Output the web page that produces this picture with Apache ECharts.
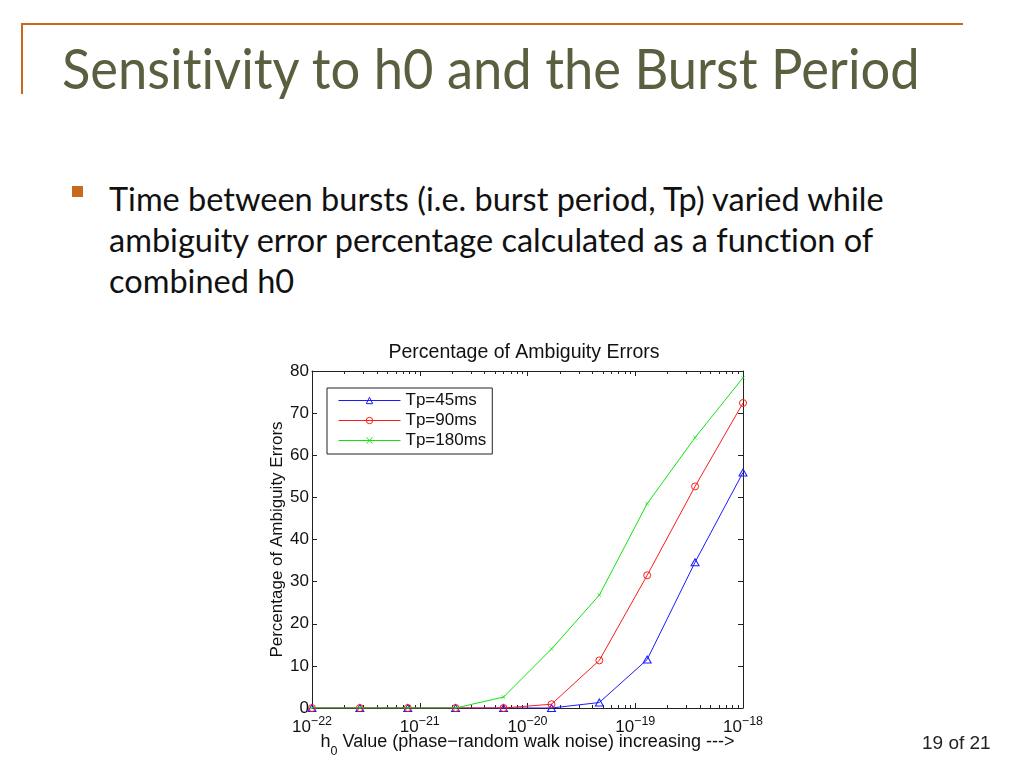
<!DOCTYPE html>
<html>
<head>
<meta charset="utf-8">
<script src="https://cdn.jsdelivr.net/npm/echarts@6/dist/echarts.min.js"></script>
<style>
  html, body { margin: 0; padding: 0; background: #fff; }
  #slide { position: relative; width: 1024px; height: 768px; overflow: hidden; background: #fff; }
  #chart { position: absolute; left: 0; top: 0; width: 1024px; height: 768px; }
  .hline { position: absolute; left: 21px; top: 23px; width: 942px; height: 2px; background: #c8691c; }
  .vline { position: absolute; left: 21px; top: 23px; width: 2px; height: 71px; background: #c8691c; }
  .title { position: absolute; left: 62px; top: 34px; font-family: Lato, "Open Sans", sans-serif; font-size: 52.5px; color: #5a603f; white-space: nowrap; transform-origin: 0 0; transform: scale(1, 1.06); line-height: 64px; font-variant-ligatures: none; }
  .bullet { position: absolute; left: 72px; top: 186px; width: 11px; height: 11px; background: #c8691c; }
  .body { position: absolute; left: 109px; top: 178px; font-family: Lato, "Open Sans", sans-serif; font-size: 32.5px; color: #111; line-height: 41px; white-space: nowrap; font-variant-ligatures: none; }
  .page { position: absolute; left: 922px; top: 732px; font-family: "Liberation Sans", Arial, sans-serif; font-size: 19px; color: #222; white-space: nowrap; }
  #err { position: absolute; left: 0; top: 0; font: 12px monospace; color: red; }
</style>
</head>
<body>
<div id="slide">
  <div class="hline"></div>
  <div class="vline"></div>
  <div class="title">Sensitivity to h0 and the Burst Period</div>
  <div class="bullet"></div>
  <div class="body">Time between bursts (i.e. burst period, Tp) varied while<br>ambiguity error percentage calculated as a function of<br>combined h0</div>
  <div id="chart"></div>
  <div class="page">19 of 21</div>
  <div id="err"></div>
</div>
<script>
// ---- data ----
var chartTitle = 'Percentage of Ambiguity Errors';
var seriesNames = ['Tp=45ms', 'Tp=90ms', 'Tp=180ms'];
var h0Values = [1e-22, 2.78e-22, 7.74e-22, 2.15e-21, 5.99e-21, 1.67e-20, 4.64e-20, 1.29e-19, 3.59e-19, 1e-18];
var tp45 = [0, 0, 0, 0, 0, 0, 1.3, 11.5, 34.6, 55.9];
var tp90 = [0, 0, 0, 0, 0, 0.9, 11.3, 31.5, 52.6, 72.4];
var tp180 = [0, 0, 0, 0, 2.6, 14.0, 26.8, 48.5, 64.2, 78.4];
var yTicks = [0, 10, 20, 30, 40, 50, 60, 70, 80];
var xDecades = [-22, -21, -20, -19, -18];   // x tick labels: 10^exponent

try {
var colors = ['#1a1aff', '#ff1a1a', '#12e012'];
var font = '"Liberation Sans", Arial, Helvetica, sans-serif';

// x axis is drawn in decades (log10 of h0)
function pairs(xs, ys) { return xs.map(function (x, i) { return [Math.log10(x), ys[i]]; }); }

var minorTicks = [];
for (var d = 0; d < xDecades.length - 1; d++) {
  for (var m = 2; m <= 9; m++) minorTicks.push(xDecades[d] + Math.log10(m));
}
var xMin = xDecades[0];
var xMax = xDecades[xDecades.length - 1];

var chart = echarts.init(document.getElementById('chart'), null, { renderer: 'canvas' });

function xAxisBase(pos) {
  return {
    type: 'value', min: xMin, max: xMax, interval: 1, gridIndex: 0, position: pos,
    splitLine: { show: false }
  };
}

var axisColor = '#222';

var option = {
  animation: false,
  title: {
    text: chartTitle, left: 519, top: 338, textAlign: 'center',
    textStyle: { fontFamily: font, fontSize: 19.5, fontWeight: 'normal', color: '#111' }
  },
  legend: {
    orient: 'vertical', left: 327, top: 388,
    padding: [4, 6, 5, 11], itemGap: 3, itemWidth: 62, itemHeight: 8,
    backgroundColor: '#fff', borderColor: '#222', borderWidth: 1, borderRadius: 0,
    textStyle: { fontFamily: font, fontSize: 17, color: '#111', lineHeight: 16 },
    lineStyle: { width: 1 },
    itemStyle: { borderWidth: 1 },
    data: seriesNames
  },
  grid: { left: 312, right: 281, top: 371, bottom: 60, containLabel: false },
  xAxis: [
    Object.assign(xAxisBase('bottom'), {
      name: '{t|h}{s|0}{t| Value (phase\u2212random walk noise) increasing --->}',
      nameLocation: 'middle', nameGap: 25, nameMoveOverlap: false,
      nameTextStyle: {
        rich: {
          t: { fontFamily: font, fontSize: 18, color: '#111', lineHeight: 22, verticalAlign: 'top' },
          s: { fontFamily: font, fontSize: 12.5, color: '#111', lineHeight: 12, verticalAlign: 'bottom', padding: [0, 0, -3, 0] }
        }
      },
      axisLine: { show: true, onZero: false, lineStyle: { color: axisColor, width: 1 } },
      axisTick: { show: true, inside: true, length: 5, lineStyle: { color: axisColor } },
      axisLabel: {
        margin: 7,
        formatter: function (v) {
          var e = Math.round(v);
          return '{b|10}{s|' + (e < 0 ? '\u2212' + (-e) : e) + '}';
        },
        rich: {
          b: { fontFamily: font, fontSize: 17, color: '#111', lineHeight: 21, verticalAlign: 'bottom' },
          s: { fontFamily: font, fontSize: 12.5, color: '#111', lineHeight: 14, verticalAlign: 'top' }
        }
      }
    }),
    Object.assign(xAxisBase('bottom'), {
      axisLine: { show: false, onZero: false },
      axisTick: { show: true, inside: true, length: 3, customValues: minorTicks, lineStyle: { color: axisColor } },
      axisLabel: { show: false }
    }),
    Object.assign(xAxisBase('top'), {
      axisLine: { show: true, onZero: false, lineStyle: { color: axisColor, width: 1 } },
      axisTick: { show: true, inside: true, length: 5, lineStyle: { color: axisColor } },
      axisLabel: { show: false }
    }),
    Object.assign(xAxisBase('top'), {
      axisLine: { show: false, onZero: false },
      axisTick: { show: true, inside: true, length: 3, customValues: minorTicks, lineStyle: { color: axisColor } },
      axisLabel: { show: false }
    })
  ],
  yAxis: [
    {
      type: 'value', min: yTicks[0], max: yTicks[yTicks.length - 1], interval: 10, position: 'left',
      name: 'Percentage of Ambiguity Errors', nameLocation: 'middle', nameGap: 25, nameRotate: 90,
      nameTextStyle: { fontFamily: font, fontSize: 17, color: '#111' },
      splitLine: { show: false },
      axisLine: { show: true, onZero: false, lineStyle: { color: axisColor, width: 1 } },
      axisTick: { show: true, inside: true, length: 5, lineStyle: { color: axisColor } },
      axisLabel: { margin: 3, fontFamily: font, fontSize: 17, color: '#111' }
    },
    {
      type: 'value', min: yTicks[0], max: yTicks[yTicks.length - 1], interval: 10, position: 'right',
      splitLine: { show: false },
      axisLine: { show: true, onZero: false, lineStyle: { color: axisColor, width: 1 } },
      axisTick: { show: true, inside: true, length: 5, lineStyle: { color: axisColor } },
      axisLabel: { show: false }
    }
  ],
  series: [
    {
      name: seriesNames[0], type: 'line', xAxisIndex: 0, yAxisIndex: 0,
      data: pairs(h0Values, tp45),
      symbol: 'triangle', symbolSize: [8, 7], showAllSymbol: true,
      lineStyle: { color: colors[0], width: 1 },
      itemStyle: { color: 'rgba(0,0,0,0)', borderColor: colors[0], borderWidth: 1 },
      emphasis: { disabled: true }, z: 2
    },
    {
      name: seriesNames[1], type: 'line', xAxisIndex: 0, yAxisIndex: 0,
      data: pairs(h0Values, tp90),
      symbol: 'circle', symbolSize: 7, showAllSymbol: true,
      lineStyle: { color: colors[1], width: 1 },
      itemStyle: { color: 'rgba(0,0,0,0)', borderColor: colors[1], borderWidth: 1 },
      emphasis: { disabled: true }, z: 3
    },
    {
      name: seriesNames[2], type: 'line', xAxisIndex: 0, yAxisIndex: 0,
      data: pairs(h0Values, tp180),
      symbol: 'path://M0,0L1,1L2,0L2.2,0.2L1.2,1.2L2.2,2.2L2,2.4L1,1.4L0,2.4L-0.2,2.2L0.8,1.2L-0.2,0.2Z', symbolSize: 4, showAllSymbol: true,
      lineStyle: { color: colors[2], width: 1 },
      itemStyle: { color: colors[2] },
      emphasis: { disabled: true }, z: 4
    }
  ]
};
chart.setOption(option);
} catch (e) { document.getElementById('err').textContent = String(e && e.stack || e); }
</script>
</body>
</html>
